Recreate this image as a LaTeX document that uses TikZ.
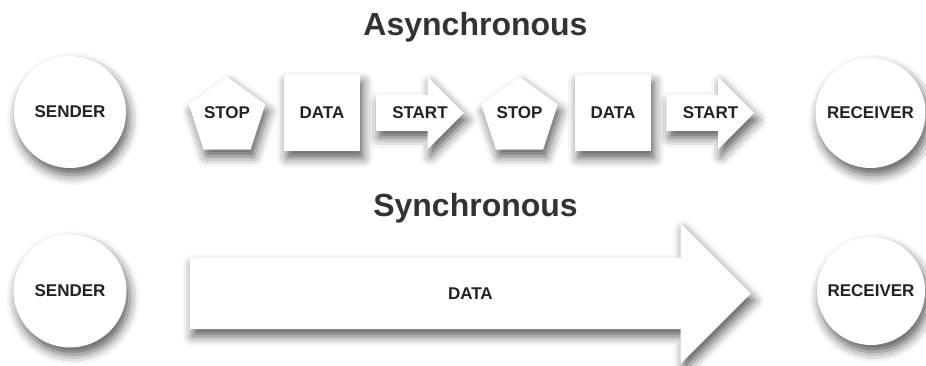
\documentclass[tikz,border=0pt]{standalone}
\usepackage{fontspec}
\setmainfont{Liberation Sans}
\usepackage{tikz}
\usepackage{xcolor}
\usetikzlibrary{shapes.geometric, shapes.arrows, shadows.blur, positioning, calc}
\definecolor{LabelInk}{HTML}{222222}
\definecolor{TitleInk}{HTML}{333333}

\begin{document}
\begin{tikzpicture}[x=1pt, y=1pt,
    soft/.style={fill=white, blur shadow={shadow xshift=3pt, shadow yshift=-7pt, shadow blur radius=10pt, shadow opacity=65}},
    lbl/.style={text=LabelInk, font=\bfseries\fontsize{17}{20}\selectfont},
    station/.style={soft, lbl, circle, inner sep=0pt, minimum size=112pt},
    stopsign/.style={soft, lbl, regular polygon, regular polygon sides=5, inner sep=0pt, text depth=8pt, minimum size=80pt},
    datablock/.style={soft, lbl, rectangle, inner sep=0pt, minimum size=76pt},
    startarrow/.style={soft, lbl, single arrow, single arrow tip angle=90, inner xsep=0pt, inner ysep=11.6pt, single arrow head extend=18.5pt, minimum width=72pt, minimum height=88pt},
    title/.style={text=TitleInk, font=\bfseries\fontsize{32}{38}\selectfont, anchor=base}]
    \useasboundingbox (0,0) rectangle (926,365);

    % asynchronous row
    \node (async) [title] at (475.5,329) {Asynchronous};
    \node (snd1) [station] at (70,253) {SENDER};
    \node (stop1) [stopsign] at (227,248) {STOP};
    \node (data1) [datablock] at (322,252) {DATA};
    \node (start1) [startarrow] at (411,252) {\phantom{START}};
    \node (stop2) [stopsign] at (519.5,248) {STOP};
    \node (data2) [datablock] at (613,252) {DATA};
    \node (start2) [startarrow] at (701.5,252) {\phantom{START}};
    \node (rcv1) [station, minimum size=110pt] at (870.5,252) {RECEIVER};
    \node (start1t) [lbl] at ($(start1.tail)!.5!(start1.tip)$) {START};
    \node (start2t) [lbl] at ($(start2.tail)!.5!(start2.tip)$) {START};

    % synchronous row
    \node (sync) [title] at (475.5,149) {Synchronous};
    \node (snd2) [station, minimum size=113pt] at (70,74) {SENDER};
    \node (stream) [soft, lbl, single arrow, single arrow tip angle=90, inner xsep=0pt, inner ysep=29.6pt, single arrow head extend=34.5pt, minimum width=140pt, minimum height=561pt] at (452.5,71.5) {\phantom{DATA}};
    \node (streamt) [lbl] at ($(stream.tail)!.5!(stream.tip)$) {DATA};
    \node (rcv2) [station, minimum size=108pt] at (871,74) {RECEIVER};
\end{tikzpicture}
\end{document}
